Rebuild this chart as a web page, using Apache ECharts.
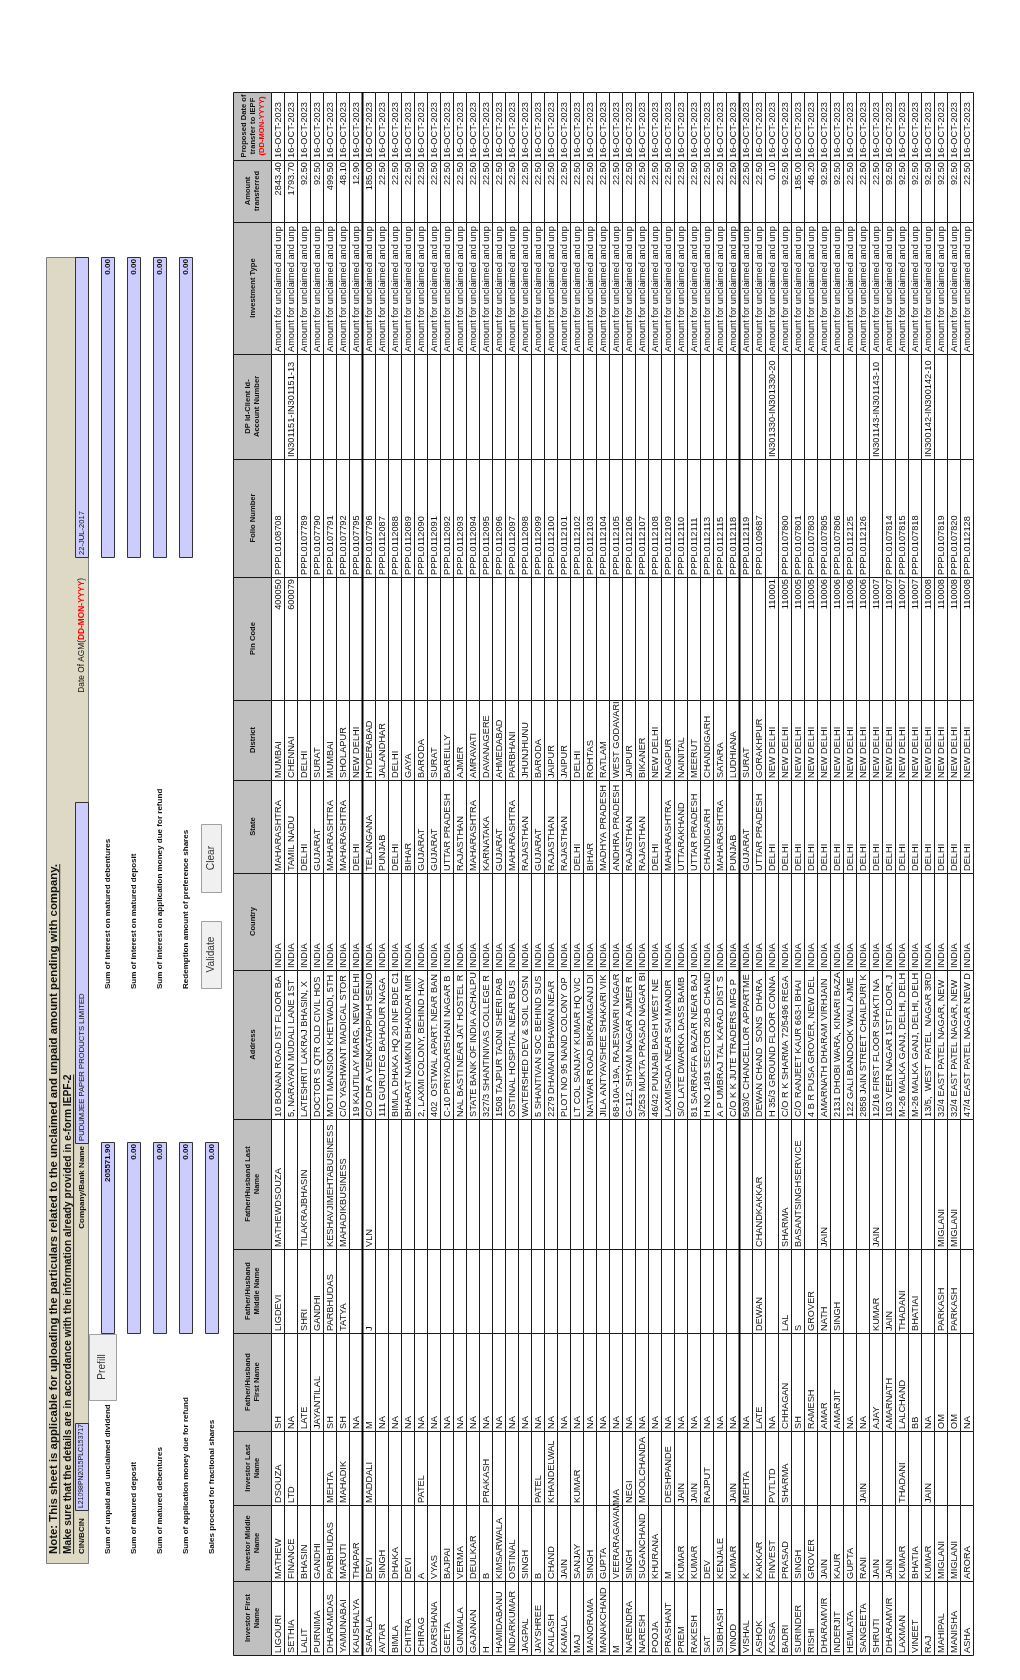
<!DOCTYPE html>
<html><head><meta charset="utf-8">
<script src="https://cdn.jsdelivr.net/npm/echarts@6/dist/echarts.min.js"></script>
<style>html,body{margin:0;padding:0;background:#fff}#c{width:1020px;height:1680px}</style>
</head><body><div id="c"></div>
<script>
// ---------------- DATA ----------------
const COL_HEADERS = ['Investor First\nName','Investor Middle\nName','Investor Last\nName','Father/Husband\nFirst Name','Father/Husband\nMiddle Name','Father/Husband Last\nName','Address','Country','State','District','Pin Code','Folio Number','DP Id-Client Id-\nAccount Number','Investment Type','Amount\ntransferred','Proposed Date of\ntransfer to IEPF\n(DD-MON-YYYY)'];

const firstNames = ['LIGOURI','SETHIA','LALIT','PURNIMA','DHARAMDAS','YAMUNABAI','KAUSHALYA','SARALA','AVTAR','BIMLA','CHITRA','CHIRAG','DARSHANA','GEETA','GUNMALA','GAJANAN','H','HAMIDABANU','INDARKUMAR','JAGPAL','JAYSHREE','KAILASH','KAMALA','MAJ','MANORAMA','MANAKCHAND','M','NARENDRA','NARESH','POOJA','PRASHANT','PREM','RAKESH','SAT','SUBHASH','VINOD','VISHAL','ASHOK','KASSA','BADRI','SURINDER','RISHI','DHARAMVIR','INDERJIT','HEMLATA','SANGEETA','SHRUTI','DHARAMVIR','LAXMAN','VINEET','RAJ','MAHIPAL','MANISHA','ASHA'];
const middleNames = ['MATHEW','FINANCE','BHASIN','GANDHI','PARBHUDAS','MARUTI','THAPAR','DEVI','SINGH','DHAKA','DEVI','A','VYAS','BAJPAI','VERMA','DEULKAR','B','KIMSARWALA','OSTINAL','SINGH','B','CHAND','JAIN','SANJAY','SINGH','GUPTA','VEERARAGAVAMMA','SINGH','SUGANCHAND','KHURANA','M','KUMAR','KUMAR','DEV','KENJALE','KUMAR','K','KAKKAR','FINVEST','PRASAD','SINGH','GROVER','JAIN','KAUR','GUPTA','RANI','JAIN','JAIN','KUMAR','BHATIA','KUMAR','MIGLANI','MIGLANI','ARORA'];
const lastNames = ['DSOUZA','LTD','','','MEHTA','MAHADIK','','MADDALI','','','','PATEL','','','','','PRAKASH','','','','PATEL','KHANDELWAL','','KUMAR','','','','NEGI','MOOLCHANDANI','','DESHPANDE','JAIN','JAIN','RAJPUT','','JAIN','MEHTA','','PVTLTD','SHARMA','','','','','','JAIN','','','THADANI','','JAIN','','',''];
const fhFirstNames = ['SH','NA','LATE','JAYANTILAL','SH','SH','NA','M','NA','NA','NA','NA','NA','NA','NA','NA','NA','NA','NA','NA','NA','NA','NA','NA','NA','NA','NA','NA','NA','NA','NA','NA','NA','NA','NA','NA','NA','LATE','NA','CHHAGAN','SH','RAMESH','AMAR','AMARJIT','NA','NA','AJAY','AMARNATH','LALCHAND','BB','NA','OM','OM','NA'];
const fhMiddleNames = ['LIGDEVI','','SHRI','GANDHI','PARBHUDAS','TATYA','','J','','','','','','','','','','','','','','','','','','','','','','','','','','','','','','DEWAN','','LAL','S','GROVER','NATH','SINGH','','','KUMAR','JAIN','THADANI','BHATIAI','','PARKASH','PARKASH',''];
const fhLastNames = ['MATHEWDSOUZA','','TILAKRAJBHASIN','','KESHAVJIMEHTABUSINESS','MAHADIKBUSINESS','','VLN','','','','','','','','','','','','','','','','','','','','','','','','','','','','','','CHANDKAKKAR','','SHARMA','BASANTSINGHSERVICE','','JAIN','','','','JAIN','','','','','MIGLANI','MIGLANI',''];
const addresses = ['10 BONAN ROAD IST FLOOR BANDRA','5, NARAYAN MUDALI LANE 1ST FLOOR','LATESHRIT LAKRAJ BHASIN, X','DOCTOR S QTR OLD CIVIL HOSPITAL','MOTI MANSION KHETWADI, 5TH LANE','C/O YASHWANT MADICAL STORES ','19 KAUTILAY MARG, NEW DELHI','C/O DR A VENKATAPPIAH SENIOR CIVIL','111 GURUTEG BAHADUR NAGAR JALANDHAR','BIMLA DHAKA HQ 20 INF BDE C10','BHARAT NAMKIN BHANDAR MIRSA','2, LAXMI COLONY, BEHIND HAVELI','402  OSTWAL APART. NEAR BANAR','C-10 PRIYADARSHANI NAGAR BAREILLY','NAL BASTI NEAR JAT HOSTEL RAMGANJ','STATE BANK OF INDIA ACHALPUR AMRAVATI','327/3 SHANTINIVAS COLLEGE ROAD','1508 TAJPUR TADNI SHERI PABHU J','OSTINAL HOSPITAL NEAR BUS STAND','WATERSHED DEV & SOIL COSN P O','5 SHANTIVAN SOC BEHIND SUSSEN','2279 DHAMANI BHAWAN NEAR DH','PLOT NO 95 NAND COLONY OPP SH','LT COL SANJAY KUMAR HQ VICTOR','NATWAR ROAD BIKRAMGANJ DIST','JILA ANTYAVSHEE SHAKARI VIKAS S','68-10A-19A, RAJESWARI NAGAR, K','G-112, SHYAM NAGAR AJMER ROAD','3/253 MUKTA PRASAD NAGAR BIKANER','46/42 PUNJABI BAGH WEST NEW DELHI','LAXMISADA NEAR SAI MANDIR WARD','S/O LATE DWARKA DASS BAMBAGH','81 SARRAFFA BAZAR NEAR BAJAJ S','H NO 1491 SECTOR 20-B CHANDIGARH','A P UMBRAJ TAL KARAD DIST SATARA','C/O K K JUTE TRADERS MFG P LTD','503/C CHANCELLOR APPARTMENTS','DEWAN CHAND  SONS  DHARAMSHALA','H 35/3 GROUND FLOOR CONNAUGHT','C/O R K SHARMA 72/5496 REGARPURA','C/O RANJEET KAUR 663-I BHAI RANDHIR','4 B R PUSA GROVER, NEW DELHI','AMARNATH DHARAM VIRHJAIN & SONS','2131 DHOBI WARA, KINARI BAZAR,','122 GALI BANDOOK WALI AJMERI GATE','2858 JAIN STREET CHAILPURI KINARI','12/16 FIRST FLOOR SHAKTI NAGAR','103 VEER NAGAR 1ST FLOOR, JAIN','M-26 MALKA GANJ, DELHI, DELHI','M-26 MALKA GANJ, DELHI, DELHI','13/5,  WEST  PATEL  NAGAR 3RD FLOOR','32/4 EAST PATEL NAGAR, NEW DELHI','32/4 EAST PATEL NAGAR, NEW DELHI','47/4 EAST PATEL NAGAR NEW DELHI'];
const countries = ['INDIA','INDIA','INDIA','INDIA','INDIA','INDIA','INDIA','INDIA','INDIA','INDIA','INDIA','INDIA','INDIA','INDIA','INDIA','INDIA','INDIA','INDIA','INDIA','INDIA','INDIA','INDIA','INDIA','INDIA','INDIA','INDIA','INDIA','INDIA','INDIA','INDIA','INDIA','INDIA','INDIA','INDIA','INDIA','INDIA','INDIA','INDIA','INDIA','INDIA','INDIA','INDIA','INDIA','INDIA','INDIA','INDIA','INDIA','INDIA','INDIA','INDIA','INDIA','INDIA','INDIA','INDIA'];
const states = ['MAHARASHTRA','TAMIL NADU','DELHI','GUJARAT','MAHARASHTRA','MAHARASHTRA','DELHI','TELANGANA','PUNJAB','DELHI','BIHAR','GUJARAT','GUJARAT','UTTAR PRADESH','RAJASTHAN','MAHARASHTRA','KARNATAKA','GUJARAT','MAHARASHTRA','RAJASTHAN','GUJARAT','RAJASTHAN','RAJASTHAN','DELHI','BIHAR','MADHYA PRADESH','ANDHRA PRADESH','RAJASTHAN','RAJASTHAN','DELHI','MAHARASHTRA','UTTARAKHAND','UTTAR PRADESH','CHANDIGARH','MAHARASHTRA','PUNJAB','GUJARAT','UTTAR PRADESH','DELHI','DELHI','DELHI','DELHI','DELHI','DELHI','DELHI','DELHI','DELHI','DELHI','DELHI','DELHI','DELHI','DELHI','DELHI','DELHI'];
const districts = ['MUMBAI','CHENNAI','DELHI','SURAT','MUMBAI','SHOLAPUR','NEW DELHI','HYDERABAD','JALANDHAR','DELHI','GAYA','BARODA','SURAT','BAREILLY','AJMER','AMRAVATI','DAVANAGERE','AHMEDABAD','PARBHANI','JHUNJHUNU','BARODA','JAIPUR','JAIPUR','DELHI','ROHTAS','RATLAM','WEST GODAVARI','JAIPUR','BIKANER','NEW DELHI','NAGPUR','NAINITAL','MEERUT','CHANDIGARH','SATARA','LUDHIANA','SURAT','GORAKHPUR','NEW DELHI','NEW DELHI','NEW DELHI','NEW DELHI','NEW DELHI','NEW DELHI','NEW DELHI','NEW DELHI','NEW DELHI','NEW DELHI','NEW DELHI','NEW DELHI','NEW DELHI','NEW DELHI','NEW DELHI','NEW DELHI'];
const pinCodes = ['400050','600079','','','','','','','','','','','','','','','','','','','','','','','','','','','','','','','','','','','','','110001','110005','110005','110005','110006','110006','110006','110006','110007','110007','110007','110007','110008','110008','110008','110008'];
const folioNumbers = ['PPPL0108708','','PPPL0107789','PPPL0107790','PPPL0107791','PPPL0107792','PPPL0107795','PPPL0107796','PPPL0112087','PPPL0112088','PPPL0112089','PPPL0112090','PPPL0112091','PPPL0112092','PPPL0112093','PPPL0112094','PPPL0112095','PPPL0112096','PPPL0112097','PPPL0112098','PPPL0112099','PPPL0112100','PPPL0112101','PPPL0112102','PPPL0112103','PPPL0112104','PPPL0112105','PPPL0112106','PPPL0112107','PPPL0112108','PPPL0112109','PPPL0112110','PPPL0112111','PPPL0112113','PPPL0112115','PPPL0112118','PPPL0112119','PPPL0109687','','PPPL0107800','PPPL0107801','PPPL0107803','PPPL0107805','PPPL0107806','PPPL0112125','PPPL0112126','','PPPL0107814','PPPL0107815','PPPL0107818','','PPPL0107819','PPPL0107820','PPPL0112128'];
const dpIds = ['','IN301151-IN301151-13','','','','','','','','','','','','','','','','','','','','','','','','','','','','','','','','','','','','','IN301330-IN301330-20','','','','','','','','IN301143-IN301143-10','','','','IN300142-IN300142-10','','',''];
const investmentTypes = ['Amount for unclaimed and unpaid dividend','Amount for unclaimed and unpaid dividend','Amount for unclaimed and unpaid dividend','Amount for unclaimed and unpaid dividend','Amount for unclaimed and unpaid dividend','Amount for unclaimed and unpaid dividend','Amount for unclaimed and unpaid dividend','Amount for unclaimed and unpaid dividend','Amount for unclaimed and unpaid dividend','Amount for unclaimed and unpaid dividend','Amount for unclaimed and unpaid dividend','Amount for unclaimed and unpaid dividend','Amount for unclaimed and unpaid dividend','Amount for unclaimed and unpaid dividend','Amount for unclaimed and unpaid dividend','Amount for unclaimed and unpaid dividend','Amount for unclaimed and unpaid dividend','Amount for unclaimed and unpaid dividend','Amount for unclaimed and unpaid dividend','Amount for unclaimed and unpaid dividend','Amount for unclaimed and unpaid dividend','Amount for unclaimed and unpaid dividend','Amount for unclaimed and unpaid dividend','Amount for unclaimed and unpaid dividend','Amount for unclaimed and unpaid dividend','Amount for unclaimed and unpaid dividend','Amount for unclaimed and unpaid dividend','Amount for unclaimed and unpaid dividend','Amount for unclaimed and unpaid dividend','Amount for unclaimed and unpaid dividend','Amount for unclaimed and unpaid dividend','Amount for unclaimed and unpaid dividend','Amount for unclaimed and unpaid dividend','Amount for unclaimed and unpaid dividend','Amount for unclaimed and unpaid dividend','Amount for unclaimed and unpaid dividend','Amount for unclaimed and unpaid dividend','Amount for unclaimed and unpaid dividend','Amount for unclaimed and unpaid dividend','Amount for unclaimed and unpaid dividend','Amount for unclaimed and unpaid dividend','Amount for unclaimed and unpaid dividend','Amount for unclaimed and unpaid dividend','Amount for unclaimed and unpaid dividend','Amount for unclaimed and unpaid dividend','Amount for unclaimed and unpaid dividend','Amount for unclaimed and unpaid dividend','Amount for unclaimed and unpaid dividend','Amount for unclaimed and unpaid dividend','Amount for unclaimed and unpaid dividend','Amount for unclaimed and unpaid dividend','Amount for unclaimed and unpaid dividend','Amount for unclaimed and unpaid dividend','Amount for unclaimed and unpaid dividend'];
const amounts = [2843.40,1793.70,92.50,92.50,499.50,48.10,12.90,185.00,22.50,22.50,22.50,22.50,22.50,22.50,22.50,22.50,22.50,22.50,22.50,22.50,22.50,22.50,22.50,22.50,22.50,22.50,22.50,22.50,22.50,22.50,22.50,22.50,22.50,22.50,22.50,22.50,22.50,22.50,0.10,92.50,185.00,46.20,92.50,92.50,22.50,22.50,22.50,92.50,92.50,92.50,92.50,92.50,92.50,22.50];
const transferDates = ['16-OCT-2023','16-OCT-2023','16-OCT-2023','16-OCT-2023','16-OCT-2023','16-OCT-2023','16-OCT-2023','16-OCT-2023','16-OCT-2023','16-OCT-2023','16-OCT-2023','16-OCT-2023','16-OCT-2023','16-OCT-2023','16-OCT-2023','16-OCT-2023','16-OCT-2023','16-OCT-2023','16-OCT-2023','16-OCT-2023','16-OCT-2023','16-OCT-2023','16-OCT-2023','16-OCT-2023','16-OCT-2023','16-OCT-2023','16-OCT-2023','16-OCT-2023','16-OCT-2023','16-OCT-2023','16-OCT-2023','16-OCT-2023','16-OCT-2023','16-OCT-2023','16-OCT-2023','16-OCT-2023','16-OCT-2023','16-OCT-2023','16-OCT-2023','16-OCT-2023','16-OCT-2023','16-OCT-2023','16-OCT-2023','16-OCT-2023','16-OCT-2023','16-OCT-2023','16-OCT-2023','16-OCT-2023','16-OCT-2023','16-OCT-2023','16-OCT-2023','16-OCT-2023','16-OCT-2023','16-OCT-2023'];

const noteLines = ['Note: This sheet is applicable for uploading the particulars related to the unclaimed and unpaid amount pending with company.','Make sure that the details are in accordance with the information already provided in e-form IEPF-2'];
const cinLabel = 'CIN/BCIN', cinValue = 'L21098PN2015PLC153717';
const companyLabel = 'Company/Bank Name', companyValue = 'PUDUMJEE PAPER PRODUCTS LIMITED';
const agmLabel = ['Date Of AGM(', 'DD-MON-YYYY', ')'], agmValue = '22-JUL-2017';
const summaryLabelsA = ['Sum of unpaid and unclaimed dividend','Sum of matured deposit','Sum of matured debentures','Sum of application money due for refund','Sales proceed for fractional shares'];
const summaryValuesA = [205571.90, 0.00, 0.00, 0.00, 0.00];
const summaryLabelsB = ['Sum of interest on matured debentures','Sum of interest on matured deposit','Sum of interest on application money due for refund','Redemption amount of preference shares'];
const summaryValuesB = [0.00, 0.00, 0.00, 0.00];
const buttonLabels = ['Prefill','Validate','Clear'];

// ---------------- LAYOUT / STYLE ----------------
const FF = "'Liberation Sans',Arial,sans-serif";
const mctx = document.createElement('canvas').getContext('2d');
function textW(t, weight, size){ mctx.font = weight+' '+size+'px '+FF; return mctx.measureText(t).width; }
function fitSize(t, weight, target){ return 10*target/textW(t, weight, 10); }

const FS = (fitSize('10 BONAN ROAD IST FLOOR BANDR','normal',147) + fitSize('Amount for unclaimed and u','normal',126))/2;
const FS_HEAD = fitSize('Proposed Date of','bold',63);
const FS_NOTE2 = fitSize(noteLines[1],'bold',480);
const FS_NOTE1 = FS_NOTE2*1.12;
const FS_LABEL = fitSize(summaryLabelsA[0],'bold',150);
const FS_CIN = fitSize(cinValue,'normal',84);
const FS_FIELD = fitSize(companyValue,'normal',148);
const FS_AGMV = fitSize(agmValue,'normal',44);
const FS_AGM = fitSize(agmLabel.join(''),'normal',115);
const FS_BTN = fitSize('Validate','normal',36);

const ROW_PX = 13, HEADER_PX = 38;
const TABLE_LEFT = 271, TABLE_TOP = 92;
const COL_W = [74,76,74,98,84,130,149,97,93,80,123,118,105,132,62,68];
const COL_ALIGN = ['l','l','l','l','l','l','l','l','l','l','r','l','l','l','r','l'];
const THICK_ROWS = [7, 36];
const TOTAL_W = COL_W.reduce((a,b)=>a+b,0);
const colStart = []; COL_W.reduce((a,b,i)=>{colStart[i]=a;return a+b;},0);
const NROWS = firstNames.length, NC = COL_W.length;
const colData = [firstNames, middleNames, lastNames, fhFirstNames, fhMiddleNames, fhLastNames, addresses, countries, states, districts, pinCodes, folioNumbers, dpIds, investmentTypes, amounts.map(v=>v.toFixed(2)), transferDates];
const HEADER_FILL = '#c0c0c0', LINE = '#1a1a1a', LAV = '#ccccff', BEIGE = '#ddd9c4', BTN = '#f0f0f0';
const TXT = '#111';
const ROT = Math.PI/2;

const cells = [];
for (let r=-1;r<NROWS;r++) for (let c=0;c<NC;c++) cells.push([r,c]);

function crisp(v){return Math.round(v)+0.5;}

function renderCell(params, api){
  const r = api.value(0), c = api.value(1);
  const rA = r<0 ? -HEADER_PX/ROW_PX : r, rB = r<0 ? 0 : r+1;
  const v0 = colStart[c], v1 = colStart[c]+COL_W[c];
  const tl = api.coord([rA, v1]), br = api.coord([rB, v0]);
  const x0 = Math.round(tl[0]), x1 = Math.round(br[0]), y0 = Math.round(tl[1]), y1 = Math.round(br[1]);
  const children = [{type:'rect', z2:1, shape:{x:x0+0.5,y:y0+0.5,width:x1-x0,height:y1-y0}, style:{fill: r<0?HEADER_FILL:'#fff', stroke:LINE, lineWidth:1}}];
  if (THICK_ROWS.indexOf(r)>=0){
    children.push({type:'line', z2:3, shape:{x1:x0+0.5,y1:y0,x2:x0+0.5,y2:y1+1}, style:{stroke:'#000',lineWidth:2}});
  }
  const cx = (tl[0]+br[0])/2 + 0.5;
  if (r<0){
    const h = COL_HEADERS[c];
    let style;
    const lh = FS_HEAD*1.18;
    if (h.indexOf('(DD-MON-YYYY)')>=0){
      const parts = h.split('\n');
      style = {text: parts.map(p=> p.indexOf('(')===0 ? '{r|'+p+'}' : '{b|'+p+'}').join('\n'),
        rich:{b:{fontFamily:FF,fontSize:FS_HEAD,fontWeight:'bold',fill:TXT,lineHeight:lh},r:{fontFamily:FF,fontSize:FS_HEAD,fontWeight:'bold',fill:'#ff0000',lineHeight:lh}},
        align:'center', verticalAlign:'middle'};
    } else {
      style = {text:h, fontFamily:FF, fontSize:FS_HEAD, fontWeight:'bold', fill:TXT, lineHeight:lh, align:'center', verticalAlign:'middle'};
    }
    style.x=0; style.y=0;
    children.push({type:'text', z2:5, x:cx, y:(y0+y1)/2, rotation:ROT, style});
  } else {
    const val = colData[c][r];
    if (val !== ''){
      const pxPerUnit = Math.abs(y1-y0)/COL_W[c];
      if (COL_ALIGN[c]==='r'){
        children.push({type:'text', z2:5, x:cx, y:y0+2, rotation:ROT, style:{x:0,y:0,text:val,fontFamily:FF,fontSize:FS,fill:TXT,align:'right',verticalAlign:'middle'}});
      } else {
        let avail = COL_W[c];
        for (let k=c+1;k<NC && colData[k][r]==='';k++) avail += COL_W[k];
        children.push({type:'text', z2:5, x:cx, y:y1-2, rotation:ROT, style:{x:0,y:0,text:val,fontFamily:FF,fontSize:FS,fill:TXT,align:'left',verticalAlign:'middle',width:avail*pxPerUnit-3,overflow:'truncate',ellipsis:''}});
      }
    }
  }
  return {type:'group', children};
}

// notes block layout (page px)
const NOTE_BOX = {x0:46, x1:88, y0:257, y1:1563};
const NOTE_ROWS = [[46,62],[62,75]];
const FIELD_ROW = [75,88];
const SUM_ROWS = [[101,114],[127,140],[153,166],[179,192],[205,218]];
const LABEL_START_A = 1554, BOX_A = [1142,1333];
const LABEL_START_B = 989, BOX_B = [257,557];
const CIN_BOX = [1423,1510], COMPANY_BOX = [802,1143], AGM_BOX = [257,557];
const COMPANY_LABEL_END = 1146, AGM_LABEL_END = 578;
const BTN_BOXES = [[89,116,1334,1400],[201,221,921,988],[201,221,824,892]];

function renderNotes(params, api){
  const P = (x,y)=>api.coord([x,y]);
  const ch = [];
  function rect(x0,x1,ya,yb,fill,stroke,z2){
    const a=P(x0,ya), b=P(x1,yb);
    ch.push({type:'rect', z2:z2||0, shape:{x:crisp(Math.min(a[0],b[0])),y:crisp(Math.min(a[1],b[1])),width:Math.round(Math.abs(b[0]-a[0])),height:Math.round(Math.abs(b[1]-a[1]))}, style:{fill, stroke, lineWidth:1}});
  }
  function text(xc, yAnchor, t, align, opts, z2){
    const p = P(xc, yAnchor);
    const st = Object.assign({x:0,y:0,text:t,fontFamily:FF,fontSize:FS_LABEL,fontWeight:'bold',fill:TXT,align,verticalAlign:'middle'}, opts||{});
    ch.push({type:'text', z2:z2||5, x:p[0], y:p[1], rotation:ROT, style:st});
  }
  rect(NOTE_BOX.x0, NOTE_BOX.x1, NOTE_BOX.y0, NOTE_BOX.y1, BEIGE, '#7f7f7f');
  [FS_NOTE1, FS_NOTE2].forEach((fs,i)=>{
    const t = noteLines[i];
    const xc = (NOTE_ROWS[i][0]+NOTE_ROWS[i][1])/2;
    text(xc, LABEL_START_A, t, 'left', {fontSize:fs});
    const w = textW(t,'bold',fs);
    const off = fs*0.5;
    const a = P(xc+off, LABEL_START_A), b = P(xc+off, LABEL_START_A - w);
    ch.push({type:'line', z2:5, shape:{x1:a[0],y1:a[1],x2:b[0],y2:b[1]}, style:{stroke:TXT,lineWidth:0.9}});
  });
  const fx = (FIELD_ROW[0]+FIELD_ROW[1])/2;
  text(fx, LABEL_START_A, cinLabel, 'left');
  rect(FIELD_ROW[0], FIELD_ROW[1], CIN_BOX[0], CIN_BOX[1], LAV, '#333');
  text(fx, CIN_BOX[1]-2, cinValue, 'left', {fontWeight:'normal', fontSize:FS_CIN});
  text(fx, COMPANY_LABEL_END, companyLabel, 'right');
  rect(FIELD_ROW[0], FIELD_ROW[1], COMPANY_BOX[0], COMPANY_BOX[1], LAV, '#333');
  text(fx, COMPANY_BOX[1]-2, companyValue, 'left', {fontWeight:'normal', fontSize:FS_FIELD});
  text(fx, AGM_LABEL_END, '{n|'+agmLabel[0]+'}{r|'+agmLabel[1]+'}{n|'+agmLabel[2]+'}', 'right', {rich:{n:{fontFamily:FF,fontSize:FS_AGM,fill:TXT},r:{fontFamily:FF,fontSize:FS_AGM,fontWeight:'bold',fill:'#ff0000'}}});
  rect(FIELD_ROW[0], FIELD_ROW[1], AGM_BOX[0], AGM_BOX[1], LAV, '#333');
  text(fx, AGM_BOX[1]-2, agmValue, 'left', {fontWeight:'normal', fontSize:FS_AGMV});
  summaryLabelsA.forEach((t,i)=>{
    const xc = (SUM_ROWS[i][0]+SUM_ROWS[i][1])/2;
    text(xc, LABEL_START_A, t, 'left');
    rect(SUM_ROWS[i][0], SUM_ROWS[i][1], BOX_A[0], BOX_A[1], LAV, '#333');
    text(xc, BOX_A[0]+2, summaryValuesA[i].toFixed(2), 'right');
  });
  summaryLabelsB.forEach((t,i)=>{
    const xc = (SUM_ROWS[i][0]+SUM_ROWS[i][1])/2;
    text(xc, LABEL_START_B, t, 'left');
    rect(SUM_ROWS[i][0], SUM_ROWS[i][1], BOX_B[0], BOX_B[1], LAV, '#333');
    text(xc, BOX_B[0]+2, summaryValuesB[i].toFixed(2), 'right');
  });
  buttonLabels.forEach((t,i)=>{
    const b = BTN_BOXES[i];
    rect(b[0], b[1], b[2], b[3], BTN, '#a0a0a0', 2);
    text((b[0]+b[1])/2, (b[2]+b[3])/2, t, 'center', {fontWeight:'normal', fill:'#333', fontSize:FS_BTN}, 6);
  });
  return {type:'group', children: ch};
}

const chart = echarts.init(document.getElementById('c'));
chart.setOption({
  animation:false,
  grid:[
    {left:TABLE_LEFT, top:TABLE_TOP, width:NROWS*ROW_PX, height:TOTAL_W},
    {left:0, top:0, width:1020, height:1680}
  ],
  xAxis:[
    {type:'value', gridIndex:0, min:0, max:NROWS, show:false},
    {type:'value', gridIndex:1, min:0, max:1020, show:false}
  ],
  yAxis:[
    {type:'value', gridIndex:0, min:0, max:TOTAL_W, show:false},
    {type:'value', gridIndex:1, min:0, max:1680, inverse:true, show:false}
  ],
  series:[
    {type:'custom', xAxisIndex:0, yAxisIndex:0, data:cells, renderItem:renderCell, clip:false, silent:true},
    {type:'custom', xAxisIndex:1, yAxisIndex:1, data:[[0,0]], renderItem:renderNotes, clip:false, silent:true}
  ]
});
</script>
</body></html>
